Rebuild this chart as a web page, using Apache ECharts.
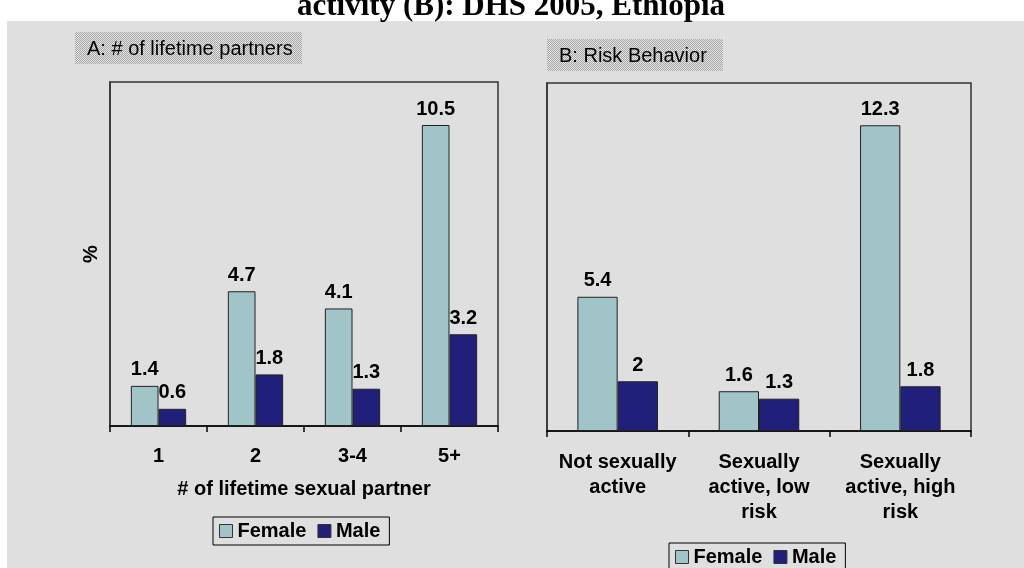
<!DOCTYPE html>
<html><head><meta charset="utf-8">
<script src="https://cdn.jsdelivr.net/npm/echarts@6/dist/echarts.min.js"></script>
<style>html,body{margin:0;padding:0;background:#fff}#c{width:1024px;height:568px}</style>
</head><body><div id="c"></div>
<script>
// ---- data ----
const titleText = 'activity (B): DHS 2005, Ethiopia';
const panelATitle = 'A: # of lifetime partners';
const panelBTitle = 'B: Risk Behavior';
const partnerAxisName = '# of lifetime sexual partner';
const percentName = '%';
const seriesNames = ['Female', 'Male'];
const partnerCategories = ['1', '2', '3-4', '5+'];
const partnerFemale = [1.4, 4.7, 4.1, 10.5];
const partnerMale = [0.6, 1.8, 1.3, 3.2];
const riskCategories = ['Not sexually\nactive', 'Sexually\nactive, low\nrisk', 'Sexually\nactive, high\nrisk'];
const riskFemale = [5.4, 1.6, 12.3];
const riskMale = [2, 1.3, 1.8];

// ---- styles ----
const SANS = '"Liberation Sans", Arial, sans-serif';
const FEMALE_COLOR = '#a0c4c7';
const MALE_COLOR = '#20207a';

const pc = document.createElement('canvas');
pc.width = 2; pc.height = 2;
const pctx = pc.getContext('2d');
pctx.fillStyle = '#e6e6e6'; pctx.fillRect(0, 0, 2, 2);
pctx.fillStyle = '#a4a4a4'; pctx.fillRect(0, 0, 1, 1); pctx.fillRect(1, 1, 1, 1);
const hatch = { type: 'pattern', image: pc, repeat: 'repeat' };

const chart = echarts.init(document.getElementById('c'), null, { renderer: 'canvas' });

function bar(name, data, idx) {
  return {
    type: 'bar', name: name, data: data, xAxisIndex: idx, yAxisIndex: idx,
    barGap: '0%', barCategoryGap: '43%',
    itemStyle: { color: name === 'Female' ? FEMALE_COLOR : MALE_COLOR, borderColor: '#222', borderWidth: 1 },
    label: { show: true, position: 'top', distance: 6, color: '#000', fontFamily: SANS, fontWeight: 'bold', fontSize: 20 },
    emphasis: { disabled: true },
    animation: false
  };
}

function xAxis(cats, idx, margin, extra) {
  return Object.assign({
    type: 'category', data: cats, gridIndex: idx,
    axisLine: { show: true, lineStyle: { color: '#000', width: 1.5 } },
    axisTick: { show: true, length: 6, lineStyle: { color: '#000', width: 1.5 } },
    axisLabel: { color: '#000', fontFamily: SANS, fontWeight: 'bold', fontSize: 20, margin: margin, lineHeight: 25, interval: 0 },
    splitLine: { show: false }
  }, extra || {});
}

function yAxis(max, idx, extra) {
  return Object.assign({
    type: 'value', min: 0, max: max, gridIndex: idx,
    axisLine: { show: true, lineStyle: { color: '#333', width: 1.5 } },
    axisTick: { show: false }, axisLabel: { show: false }, splitLine: { show: false }
  }, extra || {});
}

function legend(left, top) {
  return {
    data: seriesNames, left: left, top: top, orient: 'horizontal',
    borderColor: '#000', borderWidth: 1, padding: [4, 9, 4, 6],
    itemWidth: 13, itemHeight: 13, itemGap: 11, icon: 'rect',
    itemStyle: { borderColor: '#333', borderWidth: 1 },
    textStyle: { color: '#000', fontFamily: SANS, fontWeight: 'bold', fontSize: 20 },
    selectedMode: false
  };
}

chart.setOption({
  backgroundColor: '#ffffff',
  animation: false,
  graphic: [
    { type: 'rect', z: -10, silent: true, shape: { x: 7, y: 21, width: 1017, height: 547 }, style: { fill: '#dfdfdf' } },
    { type: 'text', z: 5, x: 511, y: 22, style: { text: titleText, font: 'bold 31px "Liberation Serif", "Times New Roman", serif', fill: '#000', align: 'center', verticalAlign: 'bottom' } },
    { type: 'rect', z: 1, shape: { x: 75, y: 32, width: 227, height: 32 }, style: { fill: hatch } },
    { type: 'text', z: 2, x: 87, y: 49, style: { text: panelATitle, font: '20px ' + SANS, fill: '#000', verticalAlign: 'middle' } },
    { type: 'rect', z: 1, shape: { x: 547, y: 39, width: 176, height: 32 }, style: { fill: hatch } },
    { type: 'text', z: 2, x: 559, y: 56, style: { text: panelBTitle, font: '20px ' + SANS, fill: '#000', verticalAlign: 'middle' } }
  ],
  grid: [
    { left: 110, right: 526, top: 82, bottom: 142, show: true, borderColor: '#333', borderWidth: 1.5, backgroundColor: 'transparent' },
    { left: 547, right: 53, top: 83, bottom: 137, show: true, borderColor: '#333', borderWidth: 1.5, backgroundColor: 'transparent' }
  ],
  xAxis: [
    xAxis(partnerCategories, 0, 18, {
      name: partnerAxisName, nameLocation: 'middle', nameGap: 53,
      nameTextStyle: { color: '#000', fontFamily: SANS, fontWeight: 'bold', fontSize: 20 }
    }),
    xAxis(riskCategories, 1, 19)
  ],
  yAxis: [
    yAxis(12, 0, {
      name: percentName, nameLocation: 'middle', nameGap: 9,
      nameTextStyle: { color: '#000', fontFamily: SANS, fontWeight: 'bold', fontSize: 20 }
    }),
    yAxis(14, 1)
  ],
  legend: [legend(213, 517), legend(669, 543)],
  series: [
    bar('Female', partnerFemale, 0),
    bar('Male', partnerMale, 0),
    bar('Female', riskFemale, 1),
    bar('Male', riskMale, 1)
  ]
});
</script>
</body></html>
